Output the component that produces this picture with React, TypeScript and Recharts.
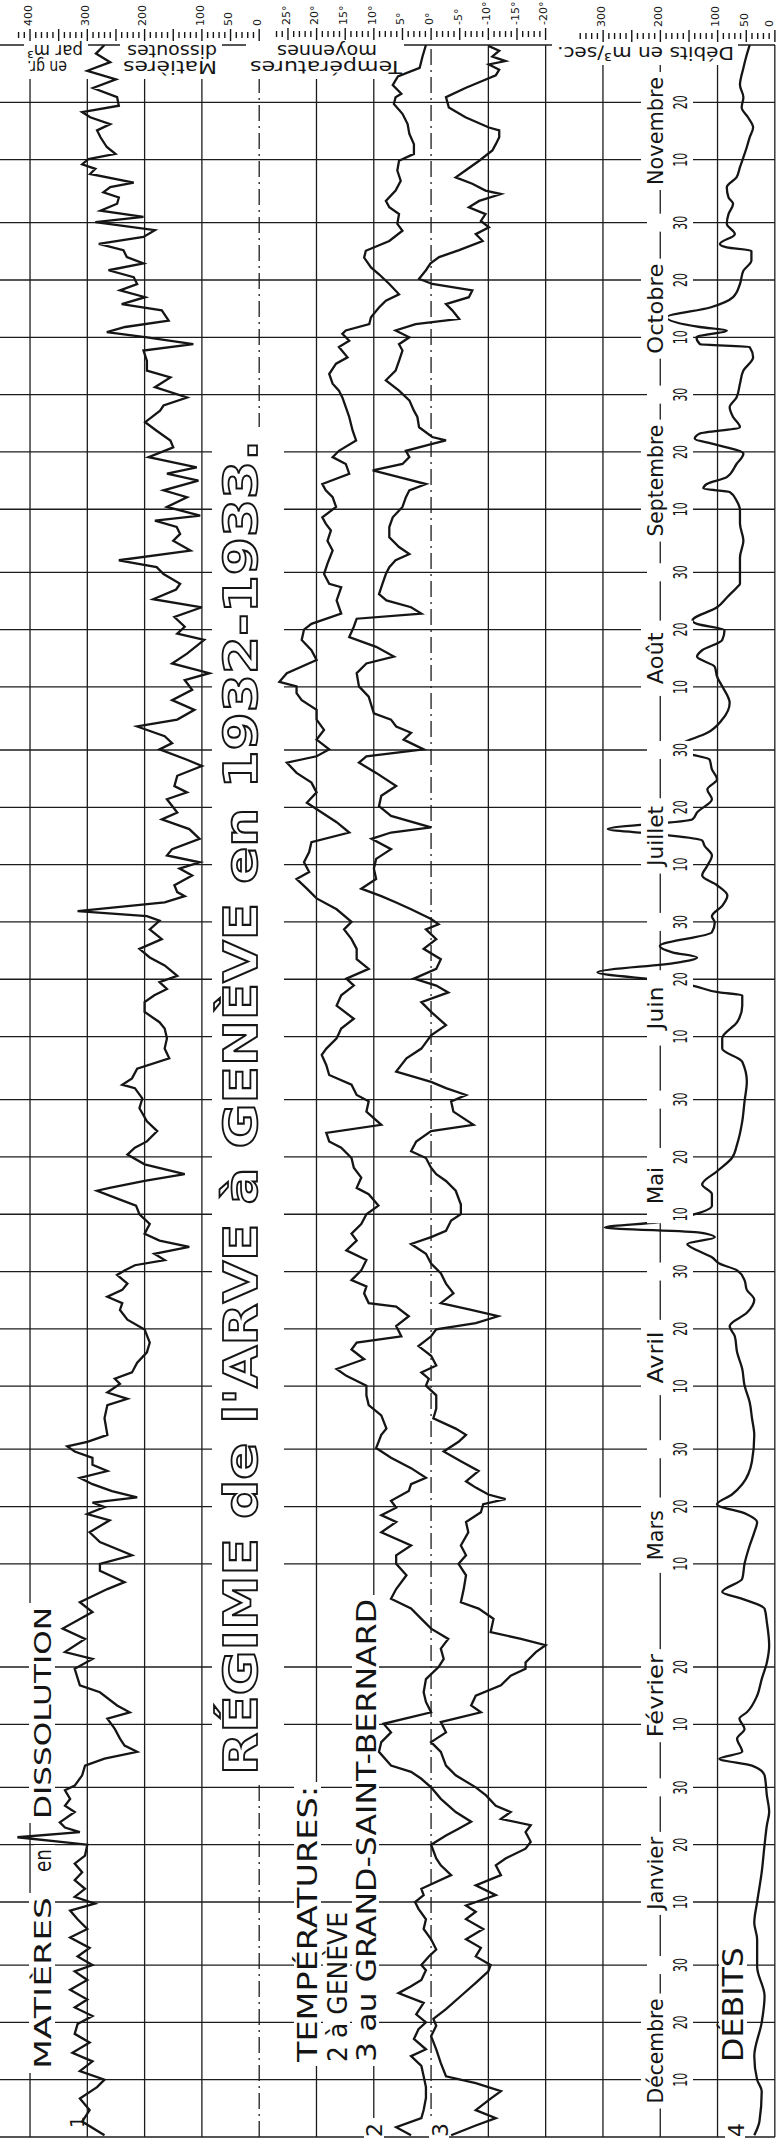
import React from "react";
import { CartesianGrid, Customized, Line, LineChart, XAxis, YAxis } from "recharts";

// The plate is drawn as a landscape chart (time running left to right)
// and then turned a quarter turn, the way the scan shows it.
const W = 2141;
const H = 776;

// day 0 = 30 novembre 1932
const months = ["Décembre", "Janvier", "Février", "Mars", "Avril", "Mai", "Juin", "Juillet", "Août", "Septembre", "Octobre", "Novembre"];
const monthStart = [0, 31, 62, 90, 121, 151, 182, 212, 243, 274, 304, 335];
const monthLength = [31, 31, 28, 31, 30, 31, 30, 31, 31, 30, 31, 30];
const monthLabelWidth = [105, 73, 83, 50, 52, 37, 43, 60, 52, 112, 90, 108];

// 1 : matières dissoutes, gr. par m3  [day, value]
const matieres: [number, number][] = [
  [0.3, 270], [2.7, 309], [4.7, 296], [6.7, 313], [8.7, 283], [10, 270], [11.5, 313], [13.2, 291], [14.7, 326], [16.5, 296],
  [18, 322], [19.7, 317], [21.1, 291], [22.6, 322], [24, 300], [25.7, 330], [27.4, 300], [28.9, 322], [30, 291], [31.5, 317],
  [33, 296], [34.8, 330], [36.3, 300], [38, 317], [39.5, 330], [40.7, 287], [41.9, 322], [43.3, 304], [44.8, 322], [46.2, 309],
  [47.7, 322], [49.1, 304], [51, 300], [52.3, 422], [53.2, 313], [54, 339], [54.9, 348], [56.7, 322], [57.8, 339], [59, 330],
  [60.5, 339], [61.3, 322], [63.1, 309], [64.8, 304], [66, 270], [67.2, 213], [68.3, 235], [69.5, 243], [71.2, 252], [73, 265],
  [74.1, 226], [75.3, 248], [77.6, 278], [78.8, 313], [81.7, 322], [83.4, 291], [84.6, 339], [86.9, 304], [88.7, 343], [91.6, 291],
  [93.3, 313], [95.6, 265], [96.8, 235], [98.8, 278], [100, 278], [101.5, 222], [103.8, 278], [105.5, 296], [107.6, 261], [108.7, 300],
  [109.9, 270], [110.7, 291], [111.6, 213], [112.7, 257], [113.9, 291], [115, 313], [116.2, 265], [117.3, 291], [118.5, 291], [119.6, 322],
  [120.5, 335], [121.3, 300], [122.5, 265], [125.4, 270], [127.7, 265], [128.8, 230], [129.9, 265], [131.4, 243], [132.3, 252], [133.4, 222],
  [135.1, 213], [136.9, 196], [138.6, 191], [140.9, 200], [142.6, 230], [144.3, 243], [145.5, 239], [146.6, 265], [147.8, 239], [148.9, 230],
  [150.4, 248], [151.2, 235], [152.1, 217], [153, 165], [154.1, 183], [155.3, 122], [156.4, 174], [157.6, 200], [159.3, 191], [161, 209],
  [162.5, 215], [163.9, 252], [165.1, 283], [165.6, 261], [166.8, 200], [168, 130], [169.7, 200], [171.4, 230], [172.6, 217], [173.7, 196],
  [175.5, 178], [177.2, 196], [179.5, 209], [181.2, 204], [183, 217], [183.6, 239], [184.7, 222], [186.4, 213], [188.2, 157], [189.9, 165],
  [191.7, 161], [193.4, 165], [194.5, 174], [196.3, 200], [198, 200], [199.2, 183], [200.3, 161], [201.5, 174], [202.6, 143], [204.4, 165],
  [205.8, 191], [207.3, 209], [209, 170], [210.7, 191], [212.2, 174], [213, 196], [213.9, 317], [215.4, 165], [216.5, 130], [217.2, 143],
  [218.4, 148], [220.1, 117], [221.3, 139], [222.4, 104], [223.6, 161], [224.7, 152], [226.5, 104], [228.2, 122], [229.9, 170], [231.1, 143],
  [233.4, 161], [234.6, 126], [235.7, 148], [237.5, 143], [239.2, 100], [240.3, 126], [242.1, 174], [243.2, 152], [244.4, 165], [246.1, 213],
  [247.3, 143], [249, 113], [250.7, 152], [252.5, 117], [254.2, 130], [255.4, 87], [257.1, 152], [258.8, 126], [261.2, 96], [262.3, 143],
  [263.5, 130], [265.2, 148], [266.9, 100], [268.3, 185], [270, 145], [271, 138], [272.7, 167], [273.9, 179], [275.1, 245], [276.8, 120],
  [278.5, 150], [279.7, 138], [280.9, 144], [282, 182], [282.9, 103], [284.4, 161], [286.1, 126], [287.3, 167], [289, 106], [290.2, 161],
  [291.3, 109], [293.1, 193], [294.8, 150], [296, 155], [297.7, 179], [299.2, 199], [301.2, 173], [302.1, 167], [303.5, 126], [305.3, 182],
  [307, 155], [308.2, 196], [309.9, 196], [311.7, 202], [312.8, 115], [314, 196], [314.9, 266], [315.8, 234], [316.9, 158], [318.7, 170],
  [319.8, 240], [321, 199], [322.2, 243], [323.3, 213], [324.5, 219], [325.7, 263], [326.9, 202], [328, 231], [329.2, 237], [330.3, 280],
  [331.5, 202], [332.7, 182], [334.1, 286], [335, 202], [336.1, 277], [337.3, 248], [338.4, 245], [339.3, 272], [340.2, 260], [341, 219],
  [342.5, 295], [343.4, 286], [344.2, 309], [345.1, 298], [346, 251], [347.2, 266], [348.9, 277], [350.1, 283], [351.2, 260], [352.4, 295],
  [353.3, 309], [354.4, 245], [355.9, 248], [357.5, 290], [359, 250], [360.5, 300], [362, 260], [363.5, 285], [365, 270],
];

// 2 : température moyenne à Genève, °C
const tempGeneve: [number, number][] = [
  [0.3, 3.5], [1.7, 6.1], [3.3, 1.7], [4.7, 1.3], [6.8, 0.9], [8.7, 0.9], [10.6, 1.3], [12.4, 1.7], [14.1, 3.5], [15.3, 0.9],
  [17.1, 3], [18.8, 2.2], [20, 0.9], [21.4, 2.6], [23.4, 1.3], [25.1, 5.7], [26.3, 3.5], [27.4, 1.7], [29.1, 0.9], [30, 1.7],
  [31.5, 0.4], [32.7, -0.9], [34.5, 0], [36.3, 1.3], [38, 0.9], [39.8, 2.2], [41, 2.8], [42.2, 1.3], [43.3, 1.7], [45.7, -3.5],
  [47.4, -1.7], [48.6, -0.9], [51, 0], [52.6, -2.6], [53.8, -4.8], [55, -7], [56.7, -4.3], [59, -1.7], [61, 0], [62.5, 1.7],
  [63.7, 3.5], [64.8, 7], [67.2, 9.1], [68.9, 8.7], [70.6, 7], [72.1, 8.3], [74.1, 0], [75.9, 0.9], [77.6, 1.3], [79.9, 0.9],
  [82, -1.3], [83.4, -2.2], [85.2, -1.7], [86.9, -3], [88.7, 0], [90.4, 1.7], [92.2, 3.5], [93.9, 7], [95.6, 6.1], [98, 4.3],
  [100, 6.1], [101.5, 6.1], [103.2, 3.5], [105.5, 8.7], [107.3, 6.1], [108.5, 8.7], [109.8, 6.1], [111, 7], [112.7, 3.9], [113.9, 3.5],
  [115, 0.9], [116.7, 3.5], [118.5, 7], [120.2, 9.6], [122.5, 8.7], [123.6, 7.8], [125.9, 8.7], [127.7, 10.9], [129.4, 11.3], [131.1, 11.3],
  [132.8, 14.8], [134, 16.5], [135.7, 11.7], [137.4, 13.9], [138.6, 13], [139.7, 5.2], [141.5, 6.1], [143.2, 3.9], [144.9, 6.1], [145.5, 10.9],
  [147.2, 11.7], [148.4, 11.3], [149.5, 13.9], [151.2, 12.2], [153, 11.3], [154.7, 14.8], [156.4, 13], [157.6, 13.9], [159.3, 12.2], [161, 11.3],
  [162.5, 9.2], [164.5, 10.9], [165.6, 13], [167.4, 12.2], [169.1, 13.5], [170.8, 13.9], [172.6, 15.7], [173.7, 17.8], [175.2, 18.3], [176.6, 8.7],
  [178.9, 11.3], [180.7, 10.9], [181.8, 13], [183.6, 13.9], [185.3, 17.8], [187, 18.3], [188.8, 19.1], [189.9, 18.3], [191.7, 16.5], [193.4, 15.7],
  [195.1, 13.5], [197.4, 16.5], [199.2, 15.7], [200.9, 13.5], [202.1, 14.8], [203.8, 10.9], [205.5, 13], [207.3, 13], [209, 13.9], [210.7, 15.2],
  [212, 13.9], [214.2, 16.5], [216.1, 20], [217.8, 21.7], [219.5, 23.5], [220.7, 21.3], [222.4, 22.2], [224.2, 21.3], [225.9, 20.9], [227.6, 14.3],
  [229.4, 16.5], [231.1, 19.1], [232.8, 21.7], [234.6, 20], [236.3, 20.9], [238, 23.5], [239.8, 25.2], [240.9, 20], [242.1, 17.8], [243.8, 20],
  [245.5, 18.7], [247.3, 20], [249, 20], [250.7, 22.6], [251.9, 23.5], [253.1, 23.5], [253.9, 26.5], [255.4, 25.2], [257.7, 20], [259.4, 20.9],
  [261.2, 22.6], [263, 22.2], [264, 20.9], [265.8, 15.7], [268.1, 16.5], [270.4, 15.7], [271, 17.8], [272.7, 18.7], [274.5, 18.1], [276.8, 17.2],
  [278.5, 18.1], [280.3, 17.5], [281.5, 18.4], [282.6, 19], [284.4, 16.6], [286.1, 17.2], [287.3, 18.4], [288.4, 19], [290.2, 14.3], [291.9, 14.9],
  [293.1, 17.2], [294.2, 16.1], [296, 13.1], [297.7, 13.7], [300.1, 14.3], [301.8, 14.9], [303.5, 15.5], [304.7, 16.1], [305.9, 17.2], [307.6, 17.8],
  [309.4, 16.6], [310.5, 14.6], [312.3, 16.1], [313.4, 14.3], [314.6, 15.5], [315.2, 14.9], [316.3, 10.8], [317.5, 10.5], [319.2, 9.1], [320.4, 7.9],
  [321.5, 5.6], [323.3, 7.3], [325, 9.1], [326.2, 10.5], [327.9, 11.7], [329.1, 11.4], [330.8, 7.3], [332.6, 5], [333.8, 5.9], [335.5, 5.6],
  [336.7, 7.3], [337.8, 7.9], [339.6, 6.2], [341.3, 5.3], [343.1, 5.9], [344.8, 5.6], [346, 3], [347.7, 3], [349.5, 3.8], [351.2, 4.1],
  [353, 5], [354.7, 6.5], [355.9, 6.2], [356.5, 5.2], [358, 6.7], [359.5, 5.8], [361, 2], [363, 1.5], [365, 0.9],
];

// 3 : température moyenne au Grand-Saint-Bernard, °C
const tempBernard: [number, number][] = [
  [0.3, -3.5], [2, -7.8], [3.3, -11.3], [4.7, -7.8], [6.7, -10.4], [8, -12.2], [9.4, -7.8], [10.6, -2.6], [12.9, -1.7], [15.3, -0.9],
  [17.6, 0], [19.4, -0.9], [20.6, -0.4], [22.3, -2.6], [24.6, -5.2], [26.9, -7.8], [28.9, -10], [30, -10.4], [31.5, -7.8], [33, -8.7],
  [34.5, -6.1], [36.3, -9.1], [38, -6.1], [39.3, -7.8], [40.4, -6.1], [42.2, -11.3], [43.9, -7.8], [45.7, -12.2], [47.4, -11.3], [48.6, -13],
  [50.3, -16.5], [51.5, -17.4], [53.2, -16.5], [54.4, -17.4], [55.5, -12.2], [56.7, -13.9], [57.8, -11.3], [59.6, -9.6], [61, -7.8], [63.1, -4.3],
  [64.8, -2.6], [67.2, -1.7], [68.9, 0], [70.6, -2.6], [72.4, -1.7], [74.1, -8.7], [75.3, -7], [77, -7.8], [78.8, -12.2], [80.5, -13.9],
  [81.7, -16.5], [82.8, -16.5], [84.6, -18.3], [85.8, -20], [86.9, -15.7], [88.1, -10.4], [90.4, -10.9], [92.2, -8.3], [93.3, -5.2], [95.6, -5.7],
  [98, -6.1], [100, -4.8], [101.5, -6.1], [103.2, -5.2], [105.5, -6.5], [107.3, -6.1], [109, -8.7], [110.4, -9.1], [111.3, -13], [112.1, -10],
  [113.3, -7.8], [114.4, -6.1], [116.2, -8.3], [117.9, -5.2], [119.6, -2.2], [121.3, -4.8], [122.5, -6.1], [123.6, -4.3], [125.4, -0.4], [127.1, -0.9],
  [129.4, -0.9], [131.1, 0.9], [132.3, 0.4], [133.4, 1.7], [134.6, -0.9], [136.3, 0], [138, 2.2], [139.7, 0], [140.9, -0.9], [142, -7.8],
  [143.2, -11.7], [144.3, -7], [145.5, -1.7], [147.2, -3.9], [148.9, -2.6], [150.7, -1.7], [152.4, 0], [154.1, 0.9], [155.8, 3.5], [157, 0],
  [158.1, -2.6], [159.9, -3.5], [161, -5.2], [162.7, -5.2], [165.1, -4.3], [166.8, -2.6], [168, -0.9], [169.1, 0], [170.8, 0.9], [172, 3.5],
  [173.7, 2.6], [175.5, 0], [176.6, -7.4], [178.9, -3.9], [180.7, -3.5], [181.8, -6.1], [183, -2.6], [184.1, 0], [185.9, 6.1], [188.2, 4.3],
  [189.9, 1.7], [192.2, 0], [194, -2.6], [196.3, 0], [198, 1.7], [199.7, -3], [200.9, -0.9], [202.1, 3], [203.8, -0.9], [205.5, -1.7],
  [207.3, 1.3], [209, -0.9], [210.7, 0.9], [211.6, -1.3], [212.5, 0], [214.2, 3.5], [215.4, 6.1], [216.5, 8.7], [217.8, 12.2], [219.5, 9.6],
  [221.3, 10], [223, 9.6], [224.7, 7], [226.5, 10.4], [227.6, 7], [228.5, 0], [230.5, 7], [232.2, 9.1], [234, 8.7], [235.7, 6.1],
  [238, 9.6], [239.8, 12.6], [240.9, 11.3], [242.1, 1.3], [243.8, 4.8], [245, 3.5], [246.1, 6.1], [247.3, 7], [248.4, 10], [251.3, 10.9],
  [253.1, 12.6], [255.4, 13], [257.1, 11.3], [258.3, 6.5], [260, 9.6], [261.7, 14.3], [263.5, 13.5], [264.9, 13], [265.8, 1.7], [266.9, 3.5],
  [268.1, 7.8], [269.2, 9.1], [271, 8.5], [272.7, 7.9], [273.9, 7.3], [275.1, 6.2], [276.2, 3.8], [277.4, 5.6], [279.1, 7.3], [280.9, 7.3],
  [282.6, 6.7], [284.4, 5], [286.1, 4.4], [287.3, 3.8], [288.4, 0.9], [289.6, 5.6], [290.8, 10.2], [291.9, 5], [293.1, 3.8], [294.2, 4.4],
  [295.4, -0.2], [296, -2.6], [296.6, -0.2], [298.3, 2.1], [300.1, 2.4], [301.2, 3], [303, 3.8], [304.7, 5.6], [306.5, 7.9], [308.2, 6.2],
  [309.9, 5.6], [311.7, 5], [312.8, 5.6], [314, 3.8], [315.2, 6.2], [316.3, 2.7], [317.2, -4.9], [318.7, -3.7], [319.8, -2.6], [321, -6.6],
  [322.2, -7.2], [323.3, -0.2], [324.2, 2.1], [325.7, 0.9], [326.9, 0.1], [328, -1.4], [329.2, -4.9], [330.8, -9], [332, -7.8], [333.2, -10.1],
  [334.3, -8.7], [335.5, -9.5], [336.7, -6.6], [337.8, -8.4], [339, -12.2], [339.6, -9.5], [340.8, -7.2], [341.9, -4.3], [343.1, -6], [344.8, -8.4],
  [346.6, -10.7], [347.7, -11.3], [348.9, -11.9], [350.1, -11.9], [350.6, -10.1], [352.4, -6], [354.1, -3.1], [355.9, -2.6], [357.5, -6], [358.5, -8.4],
  [359.7, -11.3], [360.7, -11.9], [361.6, -10.1], [362.2, -13], [363, -10.7], [364, -11.9], [364.8, -10.1],
];

// 4 : débits de l'Arve, m3/sec
const debits: [number, number][] = [
  [0.3, 36], [2.7, 27], [8, 23], [10, 31], [14.1, 36], [20, 23], [24.6, 18], [29.7, 31], [34.5, 31], [37.4, 36],
  [41, 31], [46.2, 23], [51, 18], [54.4, 14], [56.7, 10], [59.6, 14], [63.1, 18], [64.8, 40], [66, 97], [67.2, 57],
  [69.5, 66], [71.2, 53], [73, 62], [74.1, 49], [77, 31], [79.9, 23], [82.8, 14], [85.8, 10], [89.8, 14], [92.2, 18],
  [93.9, 57], [95.1, 92], [97.4, 57], [100, 53], [103.2, 44], [105.5, 36], [107.3, 31], [108.7, 50], [110.4, 101], [112.1, 75],
  [113.9, 57], [117.9, 40], [122.5, 36], [125.4, 40], [128.2, 44], [131.1, 53], [134, 57], [136.9, 66], [139.7, 70], [141.5, 79],
  [143.8, 49], [146.1, 36], [147.8, 49], [149.5, 53], [151.2, 66], [152.4, 97], [153.5, 110], [154.7, 136], [155.8, 153], [157, 105],
  [157.8, 131], [158.7, 297], [159.6, 205], [161, 140], [162.5, 110], [164.5, 110], [166.2, 127], [168.5, 101], [170.8, 75], [173.2, 66],
  [177.2, 57], [180.7, 53], [184.1, 49], [187.6, 57], [189.9, 92], [191.7, 92], [194.5, 66], [197.4, 57], [199.2, 57], [199.7, 97],
  [200.9, 144], [201.8, 197], [203.2, 310], [204.9, 170], [205.8, 136], [206.7, 179], [207.8, 201], [210.2, 110], [211.9, 105], [213, 110],
  [214.8, 92], [216.6, 83], [218.4, 101], [220.1, 127], [221.8, 118], [223.6, 110], [225.3, 123], [226.2, 127], [227.3, 205], [228.2, 292],
  [229.9, 144], [231.1, 136], [233.4, 110], [235.1, 118], [236.9, 101], [238.6, 110], [240.3, 114], [242.1, 179], [243.2, 162], [245, 118],
  [247.3, 92], [250.2, 79], [253.1, 92], [254.8, 101], [256.5, 105], [258.3, 136], [259.4, 127], [261.2, 92], [262.9, 88], [264, 136],
  [264.6, 144], [266.9, 101], [268.7, 83], [270.4, 66], [271, 61], [273.3, 61], [275.6, 61], [278.5, 55], [281.5, 61], [283.8, 61],
  [285.5, 67], [287, 79], [287.6, 125], [288.4, 119], [289.6, 84], [291.9, 67], [293.7, 55], [295.4, 108], [296.3, 140], [297.2, 131],
  [298.3, 61], [300.1, 73], [301.8, 79], [303.5, 67], [305.9, 61], [308.2, 55], [310.5, 38], [312.3, 44], [312.8, 131], [314, 137],
  [315.2, 84], [315.8, 131], [317.5, 189], [319.2, 113], [321, 73], [323.3, 61], [325.6, 55], [327.4, 41], [329.1, 41], [329.7, 84],
  [330.3, 96], [332, 70], [333.8, 84], [335.5, 81], [337.3, 73], [338.4, 81], [340.2, 84], [341.9, 67], [343.7, 61], [345.4, 55],
  [347.2, 49], [348.9, 44], [350.6, 38], [352.4, 47], [354.1, 58], [355.9, 55], [358, 61], [361, 55], [363, 50], [365, 44],
];

// scale ticks and their labels
const mTicks = Array.from({ length: 43 }, (_, i) => i * 10);
const tTicks = Array.from({ length: 48 }, (_, i) => i - 20);
const dTicks = Array.from({ length: 35 }, (_, i) => i * 10);
const mLabels = [0, 50, 100, 200, 300, 400];
const dLabels = [0, 50, 100, 200, 300];

const toPts = (arr: [number, number][]) => arr.map(([t, v]) => ({ t, v }));

// ruling: every 10th, 20th and 30th of the month
const gridDays: number[] = [0];
const timeTicks: number[] = [];
const timeLabels = new Map<number, string>();
months.forEach((name, i) => {
  [10, 20, 30].forEach((d) => {
    if (d > monthLength[i]) return;
    const t = monthStart[i] + d;
    gridDays.push(t);
    if (t < 365) {
      timeTicks.push(t);
      timeLabels.set(t, String(d));
    }
  });
  timeTicks.push(monthStart[i] + 15);
  timeLabels.set(monthStart[i] + 15, name);
});

const INK = "#151515";
const FONT = "DejaVu Sans";

// axis sits on the bottom edge of the landscape plot (y = 775), labels ride up on the 200 m3 line
const TimeTick = (props: any) => {
  const { x, y, payload } = props;
  const label = timeLabels.get(payload.value) || "";
  const mi = months.indexOf(label);
  if (mi >= 0) {
    const w = monthLabelWidth[mi];
    return (
      <g>
        <rect x={x - w / 2 - 5} y={y - 134} width={w + 10} height={27} fill="#fff" />
        <text x={x - w / 2} y={y - 112} fontSize={21} fontFamily={FONT} fill={INK} textLength={w} lengthAdjust="spacingAndGlyphs">
          {label}
        </text>
      </g>
    );
  }
  return (
    <g>
      <rect x={x - 9} y={y - 128} width={18} height={46} fill="#fff" />
      <text x={x - 7} y={y - 88} fontSize={19} fontFamily={FONT} fill={INK} textLength={14} lengthAdjust="spacingAndGlyphs">
        {label}
      </text>
    </g>
  );
};

// the three scales share one edge; each axis is 1px wide so they step by 1px
const valueTick = (kind: "m" | "t" | "d", shift: number) => (props: any) => {
  const { x, y, payload } = props;
  const v = payload.value;
  const major = kind === "t" ? v % 5 === 0 : v % 50 === 0;
  let label = "";
  if (kind === "m" && mLabels.includes(v)) label = String(v);
  if (kind === "d" && dLabels.includes(v)) label = String(v);
  if (kind === "t" && v % 5 === 0 && v >= -20 && v <= 25) label = `${v}°`;
  const x0 = x + 4 - shift;
  // labels sit a touch above their tick, the bottom one is pulled inside the sheet
  const ly = kind === "d" && v === 0 ? y - 6 : y - 2;
  return (
    <g>
      <line x1={major ? x0 : x0 + 3} x2={major ? x0 + 12 : x0 + 9} y1={y} y2={y} stroke={INK} strokeWidth={1.4} />
      {label && (
        <text x={x0 + 15} y={ly} dy="0.35em" fontSize={11} fontFamily={FONT} fill={INK}>
          {label}
        </text>
      )}
    </g>
  );
};

const Lettering = () => (
  <g fontFamily={FONT} fill={INK}>
    {/* white patches where the ruling stops for the lettering */}
    <rect x={356} y={212} width={1358} height={72} fill="#fff" />
    <rect x={68} y={29} width={180} height={26} fill="#fff" />
    <rect x={265} y={34} width={31} height={21} fill="#fff" />
    <rect x={318} y={29} width={220} height={26} fill="#fff" />
    <rect x={75} y={294} width={284} height={27} fill="#fff" />
    <rect x={75} y={323} width={158} height={27} fill="#fff" />
    <rect x={75} y={352} width={471} height={27} fill="#fff" />
    <rect x={75} y={719} width={123} height={28} fill="#fff" />
    <rect x={10} y={66} width={16} height={20} fill="#fff" />
    <rect x={2} y={364} width={21} height={20} fill="#fff" />
    <rect x={2} y={429} width={21} height={20} fill="#fff" />
    <rect x={2} y={725} width={21} height={20} fill="#fff" />
    <rect x={2062} y={120} width={36} height={102} fill="#fff" />
    <rect x={2062} y={24} width={36} height={64} fill="#fff" />
    <rect x={2062} y={246} width={36} height={158} fill="#fff" />
    <rect x={2076} y={552} width={22} height={186} fill="#fff" />

    <text x={366} y={257} fontSize={47} fontWeight="bold" textLength={1335} lengthAdjust="spacingAndGlyphs" fill="#fff" stroke={INK} strokeWidth={1.8}>
      {"RÉGIME de l'ARVE à GENÈVE en 1932-1933."}
    </text>

    <text x={72} y={51} fontSize={23} textLength={172} lengthAdjust="spacingAndGlyphs">MATIÈRES</text>
    <text x={269} y={51} fontSize={23} textLength={23} lengthAdjust="spacingAndGlyphs">en</text>
    <text x={322} y={51} fontSize={23} textLength={212} lengthAdjust="spacingAndGlyphs">DISSOLUTION</text>

    <text x={79} y={317} fontSize={27} textLength={276} lengthAdjust="spacingAndGlyphs">TEMPÉRATURES:</text>
    <text x={79} y={347} fontSize={27} textLength={150} lengthAdjust="spacingAndGlyphs">2 à GENÈVE</text>
    <text x={79} y={376} fontSize={27} textLength={463} lengthAdjust="spacingAndGlyphs">3 au GRAND-SAINT-BERNARD</text>
    <text x={79} y={743} fontSize={28} textLength={115} lengthAdjust="spacingAndGlyphs">DÉBITS</text>

    <text x={13} y={84} fontSize={19}>1</text>
    <text x={4} y={382} fontSize={22}>2</text>
    <text x={4} y={448} fontSize={22}>3</text>
    <text x={4} y={744} fontSize={22}>4</text>

    <text transform="translate(2080,217) rotate(-90)" fontSize={17} textLength={94} lengthAdjust="spacingAndGlyphs">Matières</text>
    <text transform="translate(2096,217) rotate(-90)" fontSize={17} textLength={90} lengthAdjust="spacingAndGlyphs">dissoutes</text>
    <text transform="translate(2080,67) rotate(-90)" fontSize={17} textLength={40} lengthAdjust="spacingAndGlyphs">en gr.</text>
    <text transform="translate(2096,83) rotate(-90)" fontSize={17} textLength={56} lengthAdjust="spacingAndGlyphs">par m³</text>
    <text transform="translate(2080,402) rotate(-90)" fontSize={17} textLength={152} lengthAdjust="spacingAndGlyphs">Températures</text>
    <text transform="translate(2096,377) rotate(-90)" fontSize={17} textLength={100} lengthAdjust="spacingAndGlyphs">moyennes</text>
    <text transform="translate(2094,734) rotate(-90)" fontSize={18} textLength={177} lengthAdjust="spacingAndGlyphs">Débits en m³/sec.</text>
  </g>
);

const axisCommon = {
  type: "number" as const,
  allowDataOverflow: true,
  interval: 0 as const,
  axisLine: false,
  tickLine: false,
  tickSize: 0,
  tickMargin: 0,
};

export default function App() {
  return (
    <div style={{ position: "absolute", left: 0, top: 0, width: H, height: W, overflow: "hidden", background: "#fff" }}>
      <div
        style={{
          position: "absolute",
          left: 0,
          top: 0,
          width: W,
          height: H,
          transformOrigin: "0 0",
          transform: `translateY(${W}px) rotate(-90deg)`,
        }}
      >
        <LineChart width={W} height={H} margin={{ top: 0, right: 42, bottom: 0, left: 4 }}>
          <CartesianGrid
            horizontalValues={[400, 300, 200, 100, -100, -200, -400, -500, -600, -700, -800, -900]}
            verticalValues={gridDays}
            stroke="#1c1c1c"
            strokeWidth={1.3}
          />
          <CartesianGrid vertical={false} horizontalValues={[0, -300]} stroke="#1c1c1c" strokeWidth={1.3} strokeDasharray="16 5 2 5" />
          <XAxis {...axisCommon} dataKey="t" domain={[0, 365]} ticks={timeTicks} height={1} tick={<TimeTick />} />
          <YAxis {...axisCommon} orientation="right" width={1} domain={[-900.3, 452.4]} ticks={mTicks} tick={valueTick("m", 0)} />
          <YAxis {...axisCommon} yAxisId="t" orientation="right" width={1} domain={[-60.07, 75.3]} ticks={tTicks} tick={valueTick("t", 1)} />
          <YAxis {...axisCommon} yAxisId="d" orientation="right" width={1} domain={[-0.2, 1353.5]} ticks={dTicks} tick={valueTick("d", 2)} />
          <Customized component={<Lettering />} />
          <Line data={toPts(matieres)} dataKey="v" type="linear" stroke={INK} strokeWidth={2.3} dot={false} isAnimationActive={false} />
          <Line data={toPts(tempGeneve)} dataKey="v" yAxisId="t" type="linear" stroke={INK} strokeWidth={2.3} dot={false} isAnimationActive={false} />
          <Line data={toPts(tempBernard)} dataKey="v" yAxisId="t" type="linear" stroke={INK} strokeWidth={2.3} dot={false} isAnimationActive={false} />
          <Line data={toPts(debits)} dataKey="v" yAxisId="d" type="monotone" stroke={INK} strokeWidth={2.3} dot={false} isAnimationActive={false} />
        </LineChart>
      </div>
    </div>
  );
}
